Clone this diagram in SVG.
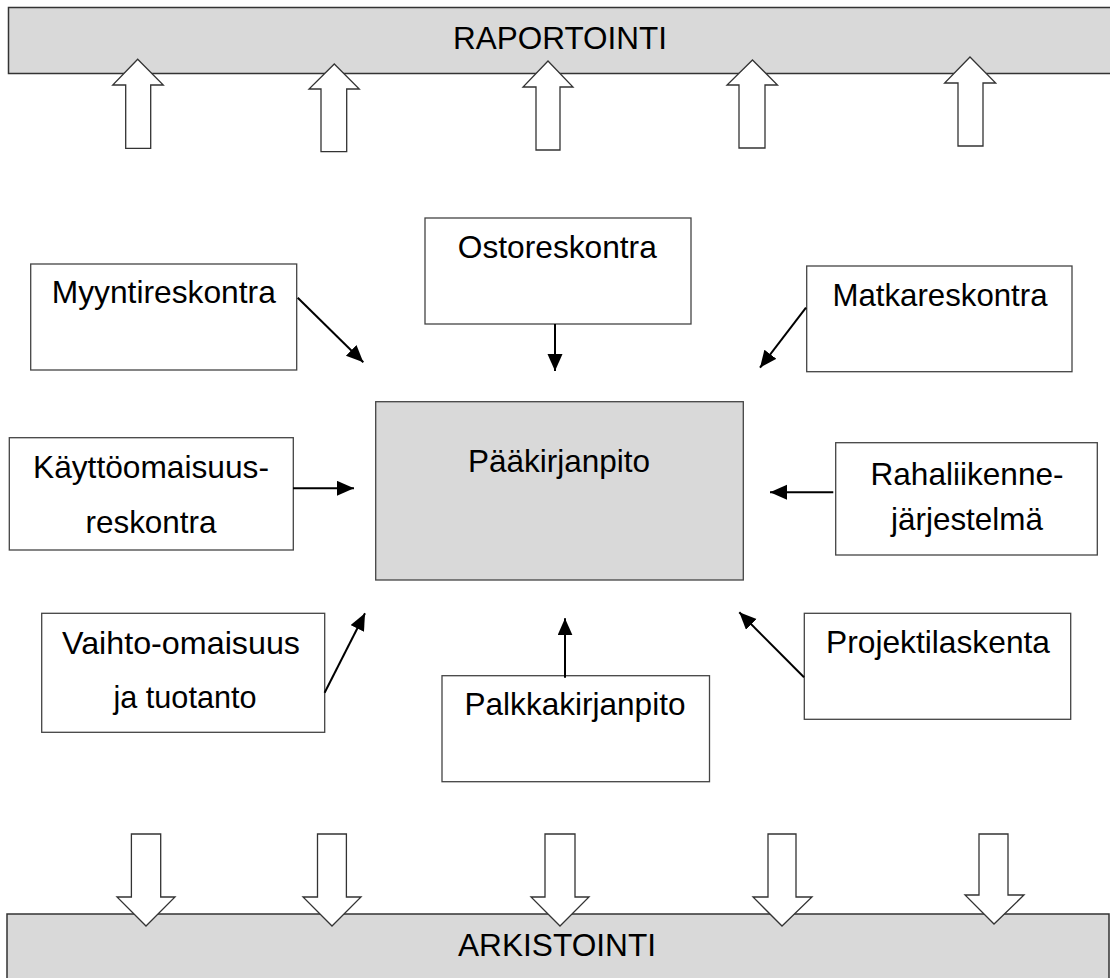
<svg xmlns="http://www.w3.org/2000/svg" width="1110" height="978" viewBox="0 0 1110 978">
<style>
  .bar{fill:#d9d9d9;stroke:#333;stroke-width:1.5}
  .box{fill:#fff;stroke:#444;stroke-width:1.3}
  .main{fill:#d9d9d9;stroke:#444;stroke-width:1.3}
  .blk{fill:#fff;stroke:#333;stroke-width:1.3;stroke-linejoin:miter}
  .t{font-family:"Liberation Sans",Arial,sans-serif;font-size:30.5px;fill:#000;text-anchor:middle}
  .big{font-size:32px}
  .con{stroke:#000;stroke-width:2;fill:none;marker-end:url(#ah)}
</style>
<defs>
  <marker id="ah" markerUnits="userSpaceOnUse" markerWidth="18" markerHeight="16" refX="17" refY="7.5" orient="auto">
    <path d="M0,0 L17,7.5 L0,15 z" fill="#000"/>
  </marker>
</defs>
<rect width="1110" height="978" fill="#fff"/>

<g id="raportointi">
  <rect class="bar" x="8.5" y="7.5" width="1104" height="66"/>
  <text class="t big" x="560" y="49" textLength="214" lengthAdjust="spacingAndGlyphs">RAPORTOINTI</text>
</g>
<g id="arkistointi">
  <rect class="bar" x="7" y="914" width="1102" height="70"/>
  <text class="t big" x="557" y="956" textLength="198" lengthAdjust="spacingAndGlyphs">ARKISTOINTI</text>
</g>

<g id="up-arrows">
  <polygon class="blk" points="137.7,59.3 163.3,85 150.7,85 150.7,148.3 125.7,148.3 125.7,85 112.7,85"/>
  <polygon class="blk" points="334.3,64 359.3,89 346.7,89 346.7,151.7 321,151.7 321,89 309,89"/>
  <polygon class="blk" points="548,61 573,87 560,87 560,150 536,150 536,87 523,87"/>
  <polygon class="blk" points="752.5,60 777.5,85 765,85 765,148 739,148 739,85 727,85"/>
  <polygon class="blk" points="970,57 995.7,83 983,83 983,146 958,146 958,83 944.6,83"/>
</g>
<g id="down-arrows">
  <polygon class="blk" points="131.4,834 160.7,834 160.7,897 175,897 146,926 117,897 131.4,897"/>
  <polygon class="blk" points="317.5,834 346.4,834 346.4,897 361,897 332,926 303,897 317.5,897"/>
  <polygon class="blk" points="545,834 575,834 575,897 589,897 560,926 531,897 545,897"/>
  <polygon class="blk" points="768,834 796,834 796,897 812,897 782,926 753,897 768,897"/>
  <polygon class="blk" points="979,834 1008,834 1008,895 1024,895 994,924 965,895 979,895"/>
</g>

<g id="paakirjanpito">
  <rect class="main" x="375.7" y="401.7" width="367.6" height="178.3"/>
  <text class="t" x="559" y="472" textLength="182" lengthAdjust="spacingAndGlyphs">Pääkirjanpito</text>
</g>
<g id="myyntireskontra">
  <rect class="box" x="30.7" y="264" width="266" height="106"/>
  <text class="t" x="163.8" y="303" textLength="224" lengthAdjust="spacingAndGlyphs">Myyntireskontra</text>
</g>
<g id="ostoreskontra">
  <rect class="box" x="425" y="218" width="266" height="106"/>
  <text class="t" x="557.3" y="258" textLength="199" lengthAdjust="spacingAndGlyphs">Ostoreskontra</text>
</g>
<g id="matkareskontra">
  <rect class="box" x="806.7" y="266" width="265.3" height="105.7"/>
  <text class="t" x="940" y="306" textLength="215" lengthAdjust="spacingAndGlyphs">Matkareskontra</text>
</g>
<g id="kayttoomaisuus">
  <rect class="box" x="9.3" y="437.7" width="284" height="112.3"/>
  <text class="t" x="151" y="478" textLength="236" lengthAdjust="spacingAndGlyphs">Käyttöomaisuus-</text>
  <text class="t" x="151" y="533" textLength="131" lengthAdjust="spacingAndGlyphs">reskontra</text>
</g>
<g id="rahaliikenne">
  <rect class="box" x="835.7" y="442.7" width="261.6" height="112.3"/>
  <text class="t" x="967" y="485" textLength="193" lengthAdjust="spacingAndGlyphs">Rahaliikenne-</text>
  <text class="t" x="967" y="530" textLength="152" lengthAdjust="spacingAndGlyphs">järjestelmä</text>
</g>
<g id="vaihto-omaisuus">
  <rect class="box" x="41.7" y="613.3" width="283" height="119"/>
  <text class="t" x="181" y="654" textLength="238" lengthAdjust="spacingAndGlyphs">Vaihto-omaisuus</text>
  <text class="t" x="185" y="708" textLength="143" lengthAdjust="spacingAndGlyphs">ja tuotanto</text>
</g>
<g id="palkkakirjanpito">
  <rect class="box" x="442" y="675.7" width="267.5" height="106"/>
  <text class="t" x="575" y="715" textLength="221" lengthAdjust="spacingAndGlyphs">Palkkakirjanpito</text>
</g>
<g id="projektilaskenta">
  <rect class="box" x="804.3" y="613.3" width="266.4" height="106"/>
  <text class="t" x="938" y="653" textLength="224" lengthAdjust="spacingAndGlyphs">Projektilaskenta</text>
</g>

<g id="connectors">
  <line class="con" x1="297.7" y1="297.7" x2="363.3" y2="362.3"/>
  <line class="con" x1="555" y1="324" x2="555" y2="371"/>
  <line class="con" x1="806" y1="307.7" x2="760" y2="367.7"/>
  <line class="con" x1="293" y1="488.3" x2="354" y2="488.3"/>
  <line class="con" x1="833.3" y1="492.3" x2="770" y2="492.3"/>
  <line class="con" x1="324.6" y1="692.7" x2="365" y2="613.3"/>
  <line class="con" x1="565" y1="677.7" x2="565" y2="618.3"/>
  <line class="con" x1="804" y1="677.3" x2="739.3" y2="612.3"/>
</g>
</svg>
